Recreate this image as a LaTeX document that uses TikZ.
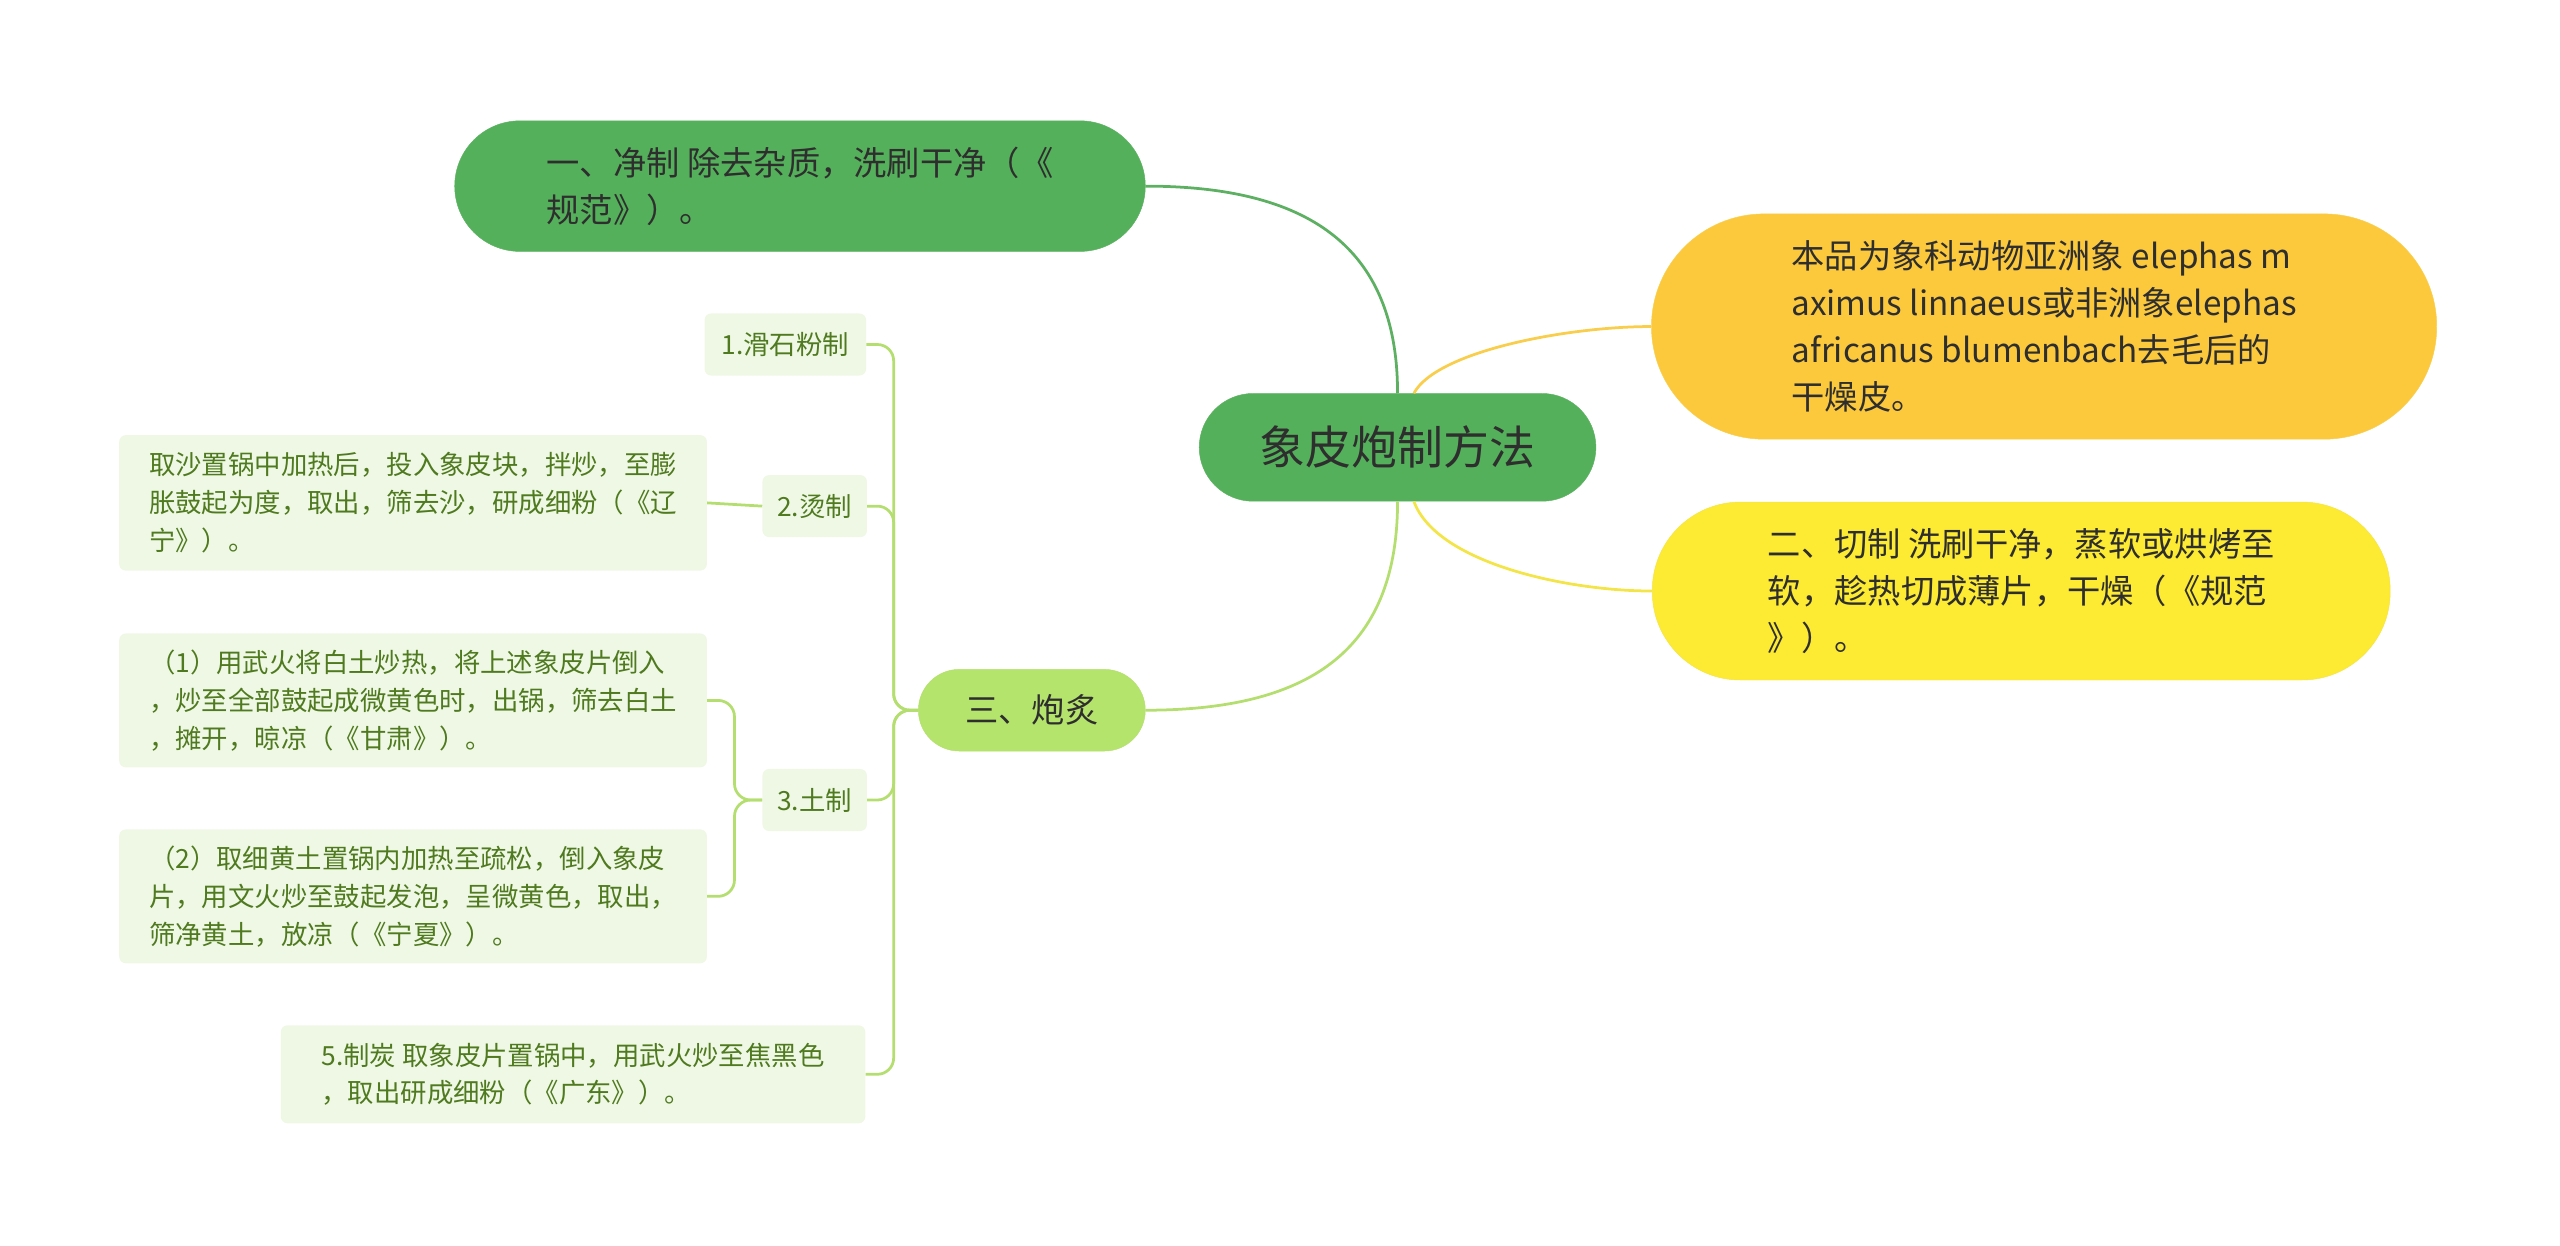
\documentclass[tikz,border=0pt]{standalone}
\usepackage{fontspec}
\setmainfont{Noto Sans CJK SC}
\usetikzlibrary{calc}
\definecolor{gmain}{HTML}{55B05B}
\definecolor{gedge}{HTML}{5DB062}
\definecolor{amber}{HTML}{FCC93D}
\definecolor{amberl}{HTML}{F8CE4C}
\definecolor{yel}{HTML}{FDEA33}
\definecolor{yell}{HTML}{F3E447}
\definecolor{lgreen}{HTML}{B5E46C}
\definecolor{lgedge}{HTML}{B4DF70}
\definecolor{leaf}{HTML}{EFF8E5}
\definecolor{leaftxt}{HTML}{4F7A1F}
\definecolor{dtxt}{HTML}{2E2E2E}
\tikzset{
 big/.style={align=left,text=dtxt,inner sep=0pt,font=\fontsize{29}{41}\selectfont},
 leafbox/.style={fill=leaf,rounded corners=0.2cm,align=left,text=leaftxt,inner sep=0pt,font=\fontsize{23}{33}\selectfont},
 lk/.style={line width=2.4pt,rounded corners=0.5cm}
}
\begin{document}
\begin{tikzpicture}[x=0.05cm,y=-0.05cm]
\useasboundingbox (0,0) rectangle (1568,762.6);
\node[big,fill=gmain,draw=gedge,rounded corners=1.65cm,minimum width=12.15cm,minimum height=3.3cm,font=\fontsize{40}{48}\selectfont,align=center] (c) at (856,274) {象皮炮制方法};
\node[big,fill=gmain,draw=gedge,rounded corners=2cm,minimum width=21.15cm,minimum height=4cm] (tl) at (490,114) {一、净制 除去杂质，洗刷干净（《\\规范》）。};
\node[big,fill=amber,draw=amberl,rounded corners=3.45cm,minimum width=24.05cm,minimum height=6.9cm] (r1) at (1252,200) {本品为象科动物亚洲象 elephas m\\aximus linnaeus或非洲象elephas\\ africanus blumenbach去毛后的\\干燥皮。};
\node[big,fill=yel,draw=yell,rounded corners=2.7cm,minimum width=22.6cm,minimum height=5.45cm] (r2) at (1238,362) {二、切制 洗刷干净，蒸软或烘烤至\\软，趁热切成薄片，干燥（《规范\\》）。};
\node[big,fill=lgreen,draw=lgedge,rounded corners=1.25cm,minimum width=6.95cm,minimum height=2.5cm,align=center] (s) at (632,435) {三、炮炙};
\node[leafbox,minimum width=4.95cm,minimum height=1.9cm] (a1) at (481,211) {1.滑石粉制};
\node[leafbox,minimum width=3.2cm,minimum height=1.9cm] (a2) at (499,310) {2.烫制};
\node[leafbox,minimum width=18cm,minimum height=4.15cm] (a2t) at (253,308) {取沙置锅中加热后，投入象皮块，拌炒，至膨\\胀鼓起为度，取出，筛去沙，研成细粉（《辽\\宁》）。};
\node[leafbox,minimum width=3.2cm,minimum height=1.9cm] (a3) at (499,490) {3.土制};
\node[leafbox,minimum width=18cm,minimum height=4.1cm] (b1) at (253,429) {（1）用武火将白土炒热，将上述象皮片倒入\\，炒至全部鼓起成微黄色时，出锅，筛去白土\\，摊开，晾凉（《甘肃》）。};
\node[leafbox,minimum width=18cm,minimum height=4.1cm] (b2) at (253,549) {（2）取细黄土置锅内加热至疏松，倒入象皮\\片，用文火炒至鼓起发泡，呈微黄色，取出，\\筛净黄土，放凉（《宁夏》）。};
\node[leafbox,minimum width=17.9cm,minimum height=3cm] (a5) at (351,658) {5.制炭 取象皮片置锅中，用武火炒至焦黑色\\，取出研成细粉（《广东》）。};
% main connectors
\draw[line width=2.4pt,gedge] ($(c.north)+(0,0)$) .. controls (856,150) and (800,114) .. (tl.east);
\draw[line width=2.4pt,amberl] ($(c.north)+(10,0)$) .. controls (880,215) and (960,200) .. (r1.west);
\draw[line width=2.4pt,yell] ($(c.south)+(10,0)$) .. controls (880,345) and (960,362) .. (r2.west);
\draw[line width=2.4pt,lgedge] (c.south) .. controls (856,400) and (800,435) .. (s.east);
% branches
\foreach \t in {a1,a2,a3,a5}
  \draw[lk,lgedge] (s.west) -- ++(-15,0) |- (\t.east);
\draw[line width=2.4pt,lgedge] (a2.west) -- (a2t.east);
\foreach \t in {b1,b2}
  \draw[lk,lgedge] (a3.west) -- ++(-17,0) |- (\t.east);
\end{tikzpicture}
\end{document}
